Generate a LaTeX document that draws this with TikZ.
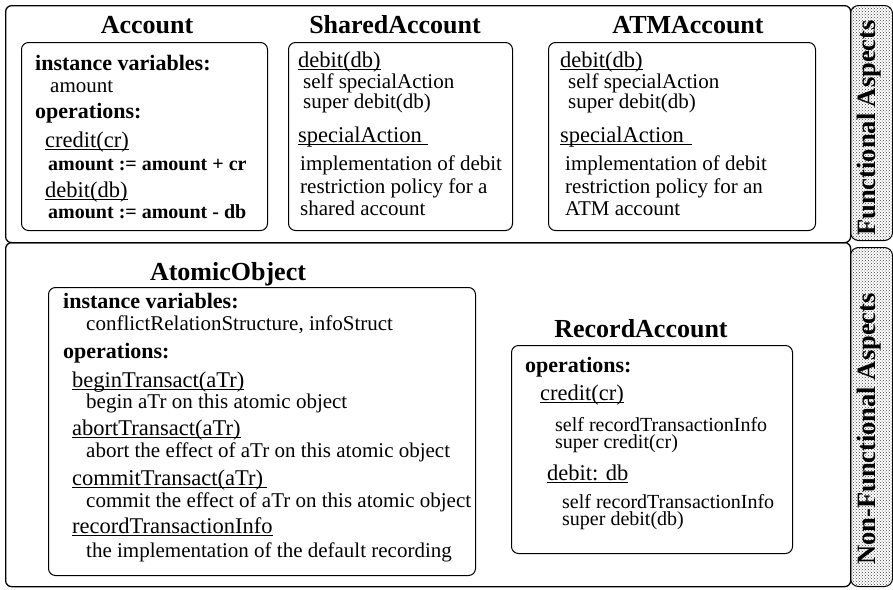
\documentclass[tikz,border=0pt]{standalone}
\usepackage{fontspec}
\setmainfont{Liberation Serif}
\usetikzlibrary{patterns}
\newcommand{\opname}[2][0pt]{\setbox0\hbox{#2\kern#1}\rlap{\rule[-2.6pt]{\wd0}{0.9pt}}#2}
\begin{document}
\begin{tikzpicture}[x=1pt,y=-1pt,
  title/.style={font=\fontsize{26}{28}\selectfont\bfseries, inner sep=0pt, anchor=base},
  hdr/.style={font=\fontsize{22}{24}\selectfont\bfseries, inner sep=0pt, anchor=base west},
  op/.style={font=\fontsize{22.5}{24}\selectfont, inner sep=0pt, anchor=base west},
  body/.style={font=\fontsize{21}{23}\selectfont, inner sep=0pt, anchor=base west},
  rbody/.style={font=\fontsize{20}{22}\selectfont, inner sep=0pt, anchor=base west},
  sbold/.style={font=\fontsize{20}{22}\selectfont\bfseries, inner sep=0pt, anchor=base west},
  cbox/.style={draw, rounded corners=7pt, line width=1pt, inner sep=0pt, anchor=north west},
  panel/.style={draw, rounded corners=6pt, line width=1.3pt, inner sep=0pt, anchor=north west},
  tab/.style={draw, rounded corners=8pt, line width=1pt, inner sep=0pt, anchor=north west,
    pattern=crosshatch dots, pattern color=black!75},
  tabtxt/.style={font=\fontsize{26.5}{28}\selectfont\bfseries, rotate=90, inner sep=0pt}
]
\useasboundingbox (0,0) rectangle (893,589);

% panels and side tabs
\node[panel, minimum width=845pt, minimum height=237pt] (fpanel) at (5,5) {};
\node[panel, minimum width=845pt, minimum height=344pt] (nfpanel) at (5,242) {};
\node[tab, minimum width=42pt, minimum height=235pt] (ftab) at (850,5) {};
\node[tab, minimum width=42pt, minimum height=339pt] (nftab) at (850,247) {};
\node[tabtxt] (ftabtxt) at (869,128) {Functional Aspects};
\node[tabtxt] (nftabtxt) at (869,429) {Non-Functional Aspects};

% Account
\node[title] (acct) at (147,33) {Account};
\node[cbox, minimum width=246pt, minimum height=188pt] (accbox) at (21,42) {};
\node[hdr] (acc1) at (35,70) {instance variables:};
\node[body] (acc2) at (50,92) {amount};
\node[hdr] (acc3) at (35,118) {operations:};
\node[op] (acc4) at (45,147) {\opname{credit(cr)}};
\node[sbold] (acc5) at (48,170) {amount := amount + cr};
\node[op] (acc6) at (45,197) {\opname{debit(db)}};
\node[sbold] (acc7) at (48,218) {amount := amount - db};

% SharedAccount
\node[title] (sht) at (395,33) {SharedAccount};
\node[cbox, minimum width=224pt, minimum height=188pt] (shbox) at (288,42) {};
\node[op] (sh1) at (298,67) {\opname{debit(db)}};
\node[body] (sh2) at (303,88) {self specialAction};
\node[body] (sh3) at (303,108) {super debit(db)};
\node[op] (sh4) at (298,142) {\opname[6pt]{specialAction}};
\node[body] (sh5) at (300,170) {implementation of debit};
\node[body] (sh6) at (300,193) {restriction policy for a};
\node[body] (sh7) at (300,215) {shared account};

% ATMAccount
\node[title] (atmt) at (688,33) {ATMAccount};
\node[cbox, minimum width=267pt, minimum height=188pt] (atmbox) at (548,42) {};
\node[op] (atm1) at (560,67) {\opname{debit(db)}};
\node[body] (atm2) at (568,88) {self specialAction};
\node[body] (atm3) at (568,108) {super debit(db)};
\node[op] (atm4) at (560,142) {\opname[8pt]{specialAction}};
\node[body] (atm5) at (565,170) {implementation of debit};
\node[body] (atm6) at (565,193) {restriction policy for an};
\node[body] (atm7) at (565,215) {ATM account};

% AtomicObject
\node[title] (aot) at (228,280) {AtomicObject};
\node[cbox, minimum width=427pt, minimum height=288pt] (aobox) at (48,287) {};
\node[hdr] (ao1) at (63,308) {instance variables:};
\node[body] (ao2) at (86,330) {conflictRelationStructure, infoStruct};
\node[hdr] (ao3) at (63,358) {operations:};
\node[op] (ao4) at (72,387) {\opname{beginTransact(aTr)}};
\node[body] (ao5) at (86,408) {begin aTr on this atomic object};
\node[op] (ao6) at (72,435) {\opname{abortTransact(aTr)}};
\node[body] (ao7) at (86,457) {abort the effect of aTr on this atomic object};
\node[op] (ao8) at (72,485) {\opname[4pt]{commitTransact(aTr)}};
\node[body] (ao9) at (86,507) {commit the effect of aTr on this atomic object};
\node[op] (ao10) at (72,533) {\opname{recordTransactionInfo}};
\node[body] (ao11) at (86,557) {the implementation of the default recording};

% RecordAccount
\node[title] (rat) at (641,337) {RecordAccount};
\node[cbox, minimum width=281pt, minimum height=208pt] (rabox) at (511,345) {};
\node[hdr] (ra1) at (525,372) {operations:};
\node[op] (ra2) at (540,400) {\opname{credit(cr)}};
\node[rbody] (ra3) at (555,431) {self recordTransactionInfo};
\node[rbody] (ra4) at (555,448) {super credit(cr)};
\node[op] (ra5) at (547,480) {\opname{debit: db}};
\node[rbody] (ra6) at (562,508) {self recordTransactionInfo};
\node[rbody] (ra7) at (562,525) {super debit(db)};
\end{tikzpicture}
\end{document}
